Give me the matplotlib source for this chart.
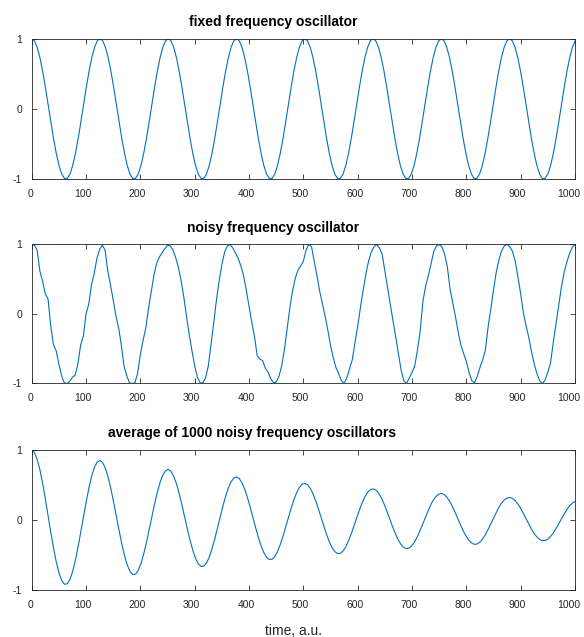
import numpy as np
import matplotlib
matplotlib.use('Agg')
import matplotlib.pyplot as plt
from matplotlib.transforms import ScaledTranslation

plt.rcParams['font.family'] = ['Liberation Sans', 'DejaVu Sans']
plt.rcParams['axes.unicode_minus'] = False

titles = ['fixed frequency oscillator',
          'noisy frequency oscillator',
          'average of 1000 noisy frequency oscillators']
x_label = 'time, a.u.'
x_ticks = [0, 100, 200, 300, 400, 500, 600, 700, 800, 900, 1000]
y_ticks = [-1, 0, 1]

# sample spacing (time units) of the values below
smooth_step = 5.0265
noisy_step = 5

# fixed frequency oscillator
fixed_osc = [
    1.000, 0.969, 0.876, 0.729, 0.536, 0.309, 0.063, -0.187, -0.426, -0.637, -0.809, -0.930, -0.992,
    -0.992, -0.930, -0.809, -0.637, -0.426, -0.187, 0.063, 0.309, 0.536, 0.729, 0.876, 0.969,
    1.000, 0.969, 0.876, 0.729, 0.536, 0.309, 0.063, -0.187, -0.426, -0.637, -0.809, -0.930, -0.992,
    -0.992, -0.930, -0.809, -0.637, -0.426, -0.187, 0.063, 0.309, 0.536, 0.729, 0.876, 0.969,
    1.000, 0.969, 0.876, 0.729, 0.536, 0.309, 0.063, -0.187, -0.426, -0.637, -0.809, -0.930, -0.992,
    -0.992, -0.930, -0.809, -0.637, -0.426, -0.187, 0.063, 0.309, 0.536, 0.729, 0.876, 0.969,
    1.000, 0.969, 0.876, 0.729, 0.536, 0.309, 0.063, -0.187, -0.426, -0.637, -0.809, -0.930, -0.992,
    -0.992, -0.930, -0.809, -0.637, -0.426, -0.187, 0.063, 0.309, 0.536, 0.729, 0.876, 0.969,
    1.000, 0.969, 0.876, 0.729, 0.536, 0.309, 0.063, -0.187, -0.426, -0.637, -0.809, -0.930, -0.992,
    -0.992, -0.930, -0.809, -0.637, -0.426, -0.187, 0.063, 0.309, 0.536, 0.729, 0.876, 0.969,
    1.000, 0.969, 0.876, 0.729, 0.536, 0.309, 0.063, -0.187, -0.426, -0.637, -0.809, -0.930, -0.992,
    -0.992, -0.930, -0.809, -0.637, -0.426, -0.187, 0.063, 0.309, 0.536, 0.729, 0.876, 0.969,
    1.000, 0.969, 0.876, 0.729, 0.536, 0.309, 0.063, -0.187, -0.426, -0.637, -0.809, -0.930, -0.992,
    -0.992, -0.930, -0.809, -0.637, -0.426, -0.187, 0.063, 0.309, 0.536, 0.729, 0.876, 0.969,
    1.000, 0.969, 0.876, 0.729, 0.536, 0.309, 0.063, -0.187, -0.426, -0.637, -0.809, -0.930, -0.992,
    -0.992, -0.930, -0.809, -0.637, -0.426, -0.187, 0.063, 0.309, 0.536, 0.729, 0.876, 0.969,
    1.000,
]

# noisy frequency oscillator
noisy_osc = [
    1.00, 0.99, 0.92, 0.62, 0.47, 0.29, 0.22, -0.17, -0.44, -0.53, -0.72, -0.89, -0.99,
    -1.00, -0.97, -0.91, -0.88, -0.72, -0.45, -0.32, 0.00, 0.14, 0.42, 0.58, 0.80,
    0.93, 0.99, 0.92, 0.62, 0.42, 0.20, -0.03, -0.20, -0.45, -0.75, -0.89, -0.99, -1.00,
    -0.99, -0.85, -0.58, -0.38, -0.20, 0.08, 0.32, 0.56, 0.73, 0.82, 0.88, 0.94,
    0.99, 0.98, 0.92, 0.81, 0.67, 0.48, 0.24, -0.04, -0.30, -0.53, -0.75, -0.91, -0.99,
    -0.99, -0.92, -0.75, -0.44, -0.13, 0.20, 0.48, 0.71, 0.89, 0.98, 1.00, 0.95,
    0.88, 0.80, 0.69, 0.55, 0.34, 0.11, -0.12, -0.32, -0.60, -0.65, -0.67, -0.78, -0.84,
    -0.93, -0.99, -0.98, -0.90, -0.75, -0.52, -0.22, 0.08, 0.33, 0.51, 0.63, 0.69,
    0.76, 0.92, 1.00, 0.97, 0.76, 0.55, 0.33, 0.15, -0.03, -0.23, -0.45, -0.63, -0.77,
    -0.86, -0.96, -1.00, -0.92, -0.79, -0.66, -0.41, -0.18, 0.09, 0.34, 0.57, 0.76,
    0.89, 0.97, 1.00, 0.95, 0.86, 0.62, 0.38, 0.14, -0.10, -0.33, -0.57, -0.81, -0.96,
    -1.00, -0.92, -0.84, -0.75, -0.52, -0.25, 0.18, 0.40, 0.55, 0.72, 0.90, 0.98,
    1.00, 0.97, 0.86, 0.68, 0.36, 0.16, -0.04, -0.26, -0.45, -0.57, -0.68, -0.84, -0.96,
    -0.99, -0.90, -0.77, -0.66, -0.52, -0.19, 0.07, 0.35, 0.60, 0.78, 0.91, 0.98,
    1.00, 0.97, 0.90, 0.76, 0.53, 0.29, 0.01, -0.17, -0.34, -0.55, -0.72, -0.86, -0.96,
    -1.00, -0.95, -0.84, -0.70, -0.41, -0.14, 0.13, 0.39, 0.60, 0.75, 0.87, 0.96, 1.00,
]

# average of 1000 noisy oscillators
avg_osc = [
    1.000, 0.963, 0.865, 0.715, 0.522, 0.299, 0.061, -0.179, -0.404, -0.601, -0.758, -0.866, -0.918,
    -0.912, -0.849, -0.734, -0.574, -0.381, -0.166, 0.056, 0.271, 0.468, 0.632, 0.754, 0.829,
    0.850, 0.819, 0.735, 0.608, 0.444, 0.254, 0.052, -0.152, -0.343, -0.511, -0.644, -0.736, -0.780,
    -0.775, -0.722, -0.624, -0.488, -0.324, -0.141, 0.048, 0.230, 0.398, 0.537, 0.641, 0.705,
    0.723, 0.696, 0.625, 0.517, 0.377, 0.216, 0.044, -0.129, -0.292, -0.434, -0.548, -0.626, -0.664,
    -0.659, -0.614, -0.531, -0.415, -0.275, -0.120, 0.040, 0.196, 0.338, 0.457, 0.545, 0.599,
    0.615, 0.592, 0.532, 0.439, 0.321, 0.184, 0.037, -0.110, -0.248, -0.369, -0.466, -0.532, -0.564,
    -0.561, -0.522, -0.451, -0.353, -0.234, -0.102, 0.034, 0.167, 0.288, 0.388, 0.463, 0.510,
    0.523, 0.503, 0.452, 0.374, 0.273, 0.156, 0.032, -0.094, -0.211, -0.314, -0.396, -0.452, -0.480,
    -0.477, -0.444, -0.384, -0.300, -0.199, -0.087, 0.029, 0.142, 0.245, 0.330, 0.394, 0.433,
    0.444, 0.428, 0.384, 0.318, 0.232, 0.133, 0.027, -0.080, -0.179, -0.267, -0.337, -0.385, -0.408,
    -0.405, -0.377, -0.326, -0.255, -0.169, -0.074, 0.025, 0.120, 0.208, 0.281, 0.335, 0.368,
    0.378, 0.364, 0.327, 0.270, 0.197, 0.113, 0.023, -0.068, -0.153, -0.227, -0.286, -0.327, -0.347,
    -0.344, -0.321, -0.277, -0.217, -0.144, -0.063, 0.021, 0.102, 0.177, 0.239, 0.285, 0.313,
    0.321, 0.309, 0.278, 0.230, 0.168, 0.096, 0.020, -0.057, -0.130, -0.193, -0.243, -0.278, -0.295,
    -0.293, -0.273, -0.236, -0.184, -0.122, -0.053, 0.018, 0.087, 0.150, 0.203, 0.242, 0.266,
    0.260,
]

t_fixed = np.arange(len(fixed_osc)) * smooth_step
t_noisy = np.arange(len(noisy_osc)) * noisy_step
t_avg = np.arange(len(avg_osc)) * smooth_step

dark = '#262626'
blue = '#0072BD'

fig = plt.figure(figsize=(5.84, 6.37), dpi=100)
rects = [[0.0543, 0.719, 0.9303, 0.2203],
         [0.0543, 0.398, 0.9303, 0.2182],
         [0.0543, 0.0738, 0.9303, 0.2198]]
# the exported titles sit a bit left of centre
title_x = [0.2895, 0.2858, 0.1404]
series = [(t_fixed, fixed_osc), (t_noisy, noisy_osc), (t_avg, avg_osc)]

for i, (rect, (t, y)) in enumerate(zip(rects, series)):
    ax = fig.add_axes(rect)
    ax.plot(t, y, color=blue, linewidth=0.8)
    ax.set_xlim(0, 1000)
    ax.set_ylim(-1, 1)
    ax.set_xticks(x_ticks)
    ax.set_yticks(y_ticks)
    ax.set_title(titles[i], fontsize=10, fontweight='bold', pad=9, color='black',
                 x=title_x[i], ha='left')
    ax.tick_params(direction='in', length=3.6, width=0.6, top=True, right=True,
                   labelsize=7.5, pad=7, color=dark, labelcolor=dark)
    for s in ax.spines.values():
        s.set_linewidth(0.6)
        s.set_color(dark)
    # nudge x tick labels left, as in the original export
    for lab, v in zip(ax.get_xticklabels(), x_ticks):
        dx = {1: -1, 3: -3, 4: -6}[len(str(v))] / 100
        lab.set_transform(lab.get_transform() + ScaledTranslation(dx, 0, fig.dpi_scale_trans))
    if i == 2:
        ax.set_xlabel(x_label, fontsize=10, color=dark, labelpad=9)
        ax.xaxis.set_label_coords(0.4294, -0.245)
        ax.xaxis.label.set_ha('left')

fig.savefig('out.png', dpi=100)
